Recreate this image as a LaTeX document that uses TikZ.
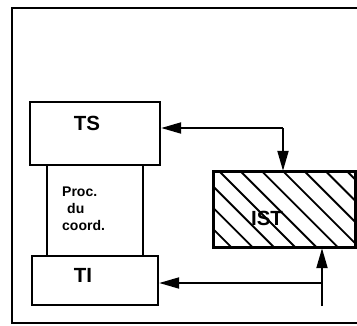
\documentclass[tikz,border=0pt]{standalone}
\usepackage{fontspec}
\setmainfont{Liberation Sans}
\usetikzlibrary{arrows.meta}
\tikzset{
  blockbox/.style={draw, line width=2.4pt, inner sep=0pt, fill=white},
  bigtext/.style={inner sep=0pt, font=\fontsize{20.5}{22}\selectfont\bfseries},
  smalltext/.style={inner sep=0pt, anchor=west, font=\fontsize{14}{15}\selectfont\bfseries},
  conn/.style={line width=2pt, -{Triangle[length=20pt,width=11pt]}},
  hatch/.style={line width=1.9pt},
  frameline/.style={line width=2.2pt}
}
\begin{document}
\begin{tikzpicture}[x=1pt,y=-1pt]
\useasboundingbox (0,0) rectangle (357,325);
\draw[frameline] (357,8) -- (12,8) -- (12,323) -- (357,323);
% blocks
\node[blockbox, minimum width=96pt, minimum height=92pt] (PC) at (95,211) {};
\node[blockbox, minimum width=130pt, minimum height=63pt] (TS) at (95,133.5) {};
\node[blockbox, minimum width=126pt, minimum height=49pt] (TI) at (95,280.5) {};
\node[draw, line width=2.4pt, inner sep=0pt, minimum width=141pt, minimum height=75pt] (IST) at (284.5,209.5) {};
% hatching
\begin{scope}
  \clip (IST.south west) rectangle (IST.north east);
  \foreach \i in {-5,...,7} {
    \draw[hatch] (220+\i*21.3,172) -- ++(110,110);
  }
\end{scope}
\draw[line width=2.4pt] (IST.south west) rectangle (IST.north east);
% texts
\node[bigtext] (tTS) at (87,123) {TS};
\node[bigtext] (tTI) at (83,275) {TI};
\node[bigtext] (tIST) at (267,218) {IST};
\node[smalltext] (p1) at (62,192) {Proc.};
\node[smalltext] (p2) at (67,208.5) {du};
\node[smalltext] (p3) at (62,225) {coord.};
% connectors
\coordinate (c1) at (283,128);
\coordinate (c2) at (322,283);
\coordinate (c3) at (322,306);
\draw[conn] (c1) -- (c1 -| TS.east);
\draw[conn] (c1) -- (c1 |- IST.north);
\draw[conn] (c3) -- (c3 |- IST.south);
\draw[conn] (c2) -- (c2 -| TI.east);
\end{tikzpicture}
\end{document}
